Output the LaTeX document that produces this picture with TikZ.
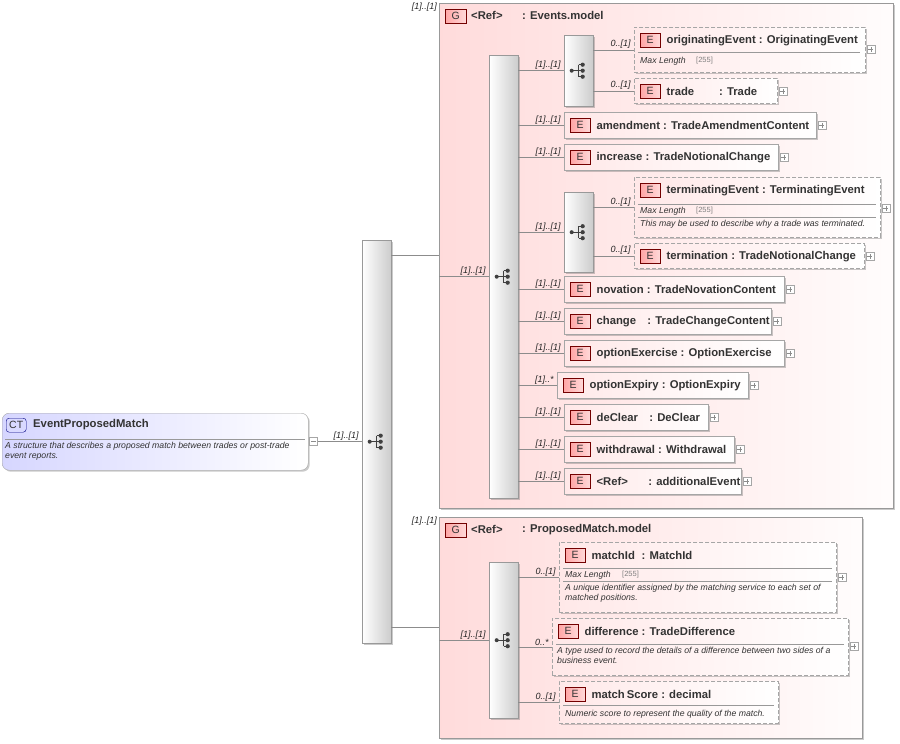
\documentclass[tikz,border=0pt]{standalone}
\usepackage{fontspec}
\setmainfont{Liberation Sans}
\usetikzlibrary{shadows}
\begin{document}
\begin{tikzpicture}[x=1pt,y=-1pt,
  shadowed/.style={drop shadow={shadow xshift=1.5pt,shadow yshift=-1.5pt,opacity=.35,fill=black!60}},
  elbox/.style={draw=black!35,line width=.8pt,left color=red!9,right color=white,anchor=north west,inner sep=0,shadowed},
  dsh/.style={dashed,dash pattern=on 4pt off 2pt},
  badge/.style={draw=red!45!black,left color=red!35,right color=red!15,anchor=north west,minimum width=20,minimum height=14,inner sep=0,font=\fontsize{10.5}{10}\selectfont,text=black!80},
  title/.style={anchor=west,font=\bfseries\fontsize{11.3}{12}\selectfont,text=black!80,inner sep=0},
  plusbox/.style={draw=black!35,fill=white,minimum size=8,inner sep=0,path picture={\draw[black!45] ([xshift=1.5pt]path picture bounding box.west)--([xshift=-1.5pt]path picture bounding box.east);\draw[black!45] ([yshift=1.5pt]path picture bounding box.south)--([yshift=-1.5pt]path picture bounding box.north);}},
  card/.style={font=\itshape\fontsize{9}{9}\selectfont,inner sep=1pt,text=black!85},
  desc/.style={font=\itshape\fontsize{8.7}{10}\selectfont,anchor=north west,inner sep=0,align=left,text=black!80},
  ml/.style={font=\itshape\fontsize{8.7}{9}\selectfont,anchor=west,inner sep=0,text=black!80},
  mlv/.style={font=\fontsize{7.5}{8}\selectfont,anchor=west,inner sep=0,text=black!50},
  sepl/.style={draw=black!40,line width=.6pt},
  seqbar/.style={draw=black!40,left color=white,right color=black!20,anchor=north west,inner sep=0,minimum width=29,shadowed},
  group/.style={draw=black!40,line width=.8pt,left color=red!14,right color=red!1,anchor=north west,inner sep=0,shadowed},
  conn/.style={draw=black!45,line width=.6pt},
  seqicon/.pic={\fill[black!75] (-7,0) circle (2);\draw[black!75,line width=.9pt] (-7,0)--(0,0) (0,-6)--(0,6) (0,-6)--(4,-6) (0,0)--(4,0) (0,6)--(4,6);
    \fill[black!75] (4,-6) circle (2.1) (4,0) circle (2.1) (4,6) circle (2.1);}
]
\useasboundingbox (0,0) rectangle (900,744);
\newcommand\El[7]{%
  \node[elbox,#6,minimum width=#4,minimum height=#5] (#1) at (#2,#3) {};
  \node[badge] (#1b) at ([xshift=6pt,yshift=-6pt]#1.north west) {E};
  \node[title] at ([xshift=6pt]#1b.east) {#7};}
\newcommand\Pl[2]{\node[plusbox] at ([xshift=5pt,yshift=-#2pt]#1.north east) {};}

% groups
\node[group,minimum width=454,minimum height=505] (g1) at (439,3) {};
\node[badge,minimum width=21] (g1b) at (445,9) {G};
\node[title] at (471,15.5) {\textless Ref\textgreater};
\node[title] at (522,15.5) {: Events.model};
\node[card,anchor=north east] at ([xshift=-1pt,yshift=1pt]g1.north west) {[1]..[1]};

\node[group,minimum width=423,minimum height=221] (g2) at (439,517) {};
\node[badge,minimum width=21] (g2b) at (445,523) {G};
\node[title] at (471,529.5) {\textless Ref\textgreater};
\node[title] at (522,529.5) {: ProposedMatch.model};
\node[card,anchor=north east] at ([xshift=-1pt,yshift=1pt]g2.north west) {[1]..[1]};

% CT
\node[draw=black!35,rounded corners=7pt,left color=blue!16,right color=white,minimum width=306,minimum height=57,anchor=north west,inner sep=0,shadowed] (ct) at (2,413) {};
\node[draw=blue!50!black,rounded corners=3pt,fill=blue!15,minimum width=20,minimum height=14,inner sep=0,anchor=north west,font=\fontsize{10.5}{10}\selectfont,text=black!80] (ctb) at (6,418) {CT};
\node[title] at (33,425) {EventProposedMatch};
\draw[sepl] (5,439)--(305,439);
\node[desc] at (5,442) {A structure that describes a proposed match between trades or post-trade\\event reports.};
\node[plusbox,path picture={\draw[black!45] ([xshift=1.5pt]path picture bounding box.west)--([xshift=-1.5pt]path picture bounding box.east);}] (ctm) at (313.5,441.5) {};

% sequence bars
\node[seqbar,minimum height=403] (s0) at (362,240) {};
\pic at (s0.center) {seqicon};
\node[seqbar,minimum height=443] (s1) at (489,55) {};
\pic at (s1.center) {seqicon};
\node[seqbar,minimum height=156] (s2) at (489,562) {};
\pic at (s2.center) {seqicon};
\node[seqbar,minimum height=71] (c1) at (564,35) {};
\pic at (c1.center) {seqicon};
\node[seqbar,minimum height=80] (c2) at (564,192) {};
\pic at (c2.center) {seqicon};

% elements
\El{orig}{634}{27}{231}{45}{dsh}{originatingEvent : OriginatingEvent}\Pl{orig}{22}
\draw[sepl] (638,52)--(860,52);
\node[ml] at (640,61) {Max Length}; \node[mlv] at (696,61) {[255]};
\El{trade}{634}{78}{143}{25}{dsh}{trade\hspace{2.2em}: Trade}\Pl{trade}{13}
\El{amend}{564}{112}{252}{26}{}{amendment : TradeAmendmentContent}\Pl{amend}{13}
\El{incr}{564}{144}{214}{26}{}{increase : TradeNotionalChange}\Pl{incr}{13}
\El{term}{634}{177}{246}{60}{dsh}{terminatingEvent : TerminatingEvent}\Pl{term}{31}
\draw[sepl] (638,204)--(876,204);
\node[ml] at (640,211) {Max Length}; \node[mlv] at (696,211) {[255]};
\draw[sepl] (638,217)--(876,217);
\node[desc] at (640,220) {This may be used to describe why a trade was terminated.};
\El{termn}{634}{243}{230}{25}{dsh}{termination : TradeNotionalChange}\Pl{termn}{13}
\El{nov}{564}{276}{220}{26}{}{novation : TradeNovationContent}\Pl{nov}{13}
\El{chg}{564}{308}{207}{26}{}{change\hspace{1em}: TradeChangeContent}\Pl{chg}{13}
\El{optx}{564}{340}{220}{26}{}{optionExercise : OptionExercise}\Pl{optx}{13}
\El{optp}{557}{372}{191}{26}{}{optionExpiry : OptionExpiry}\Pl{optp}{13}
\El{dec}{564}{404}{144}{26}{}{deClear\hspace{1em}: DeClear}\Pl{dec}{13}
\El{wd}{564}{436}{170}{26}{}{withdrawal : Withdrawal}\Pl{wd}{13}
\El{addl}{564}{468}{177}{26}{}{\textless Ref\textgreater\hspace{1.8em}: additionalEvent}\Pl{addl}{13}

\El{mid}{559}{542}{277}{70}{dsh}{matchId\hspace{0.6em}: MatchId}\Pl{mid}{35}
\draw[sepl] (563,568)--(832,568);
\node[ml] at (565,575) {Max Length}; \node[mlv] at (622,575) {[255]};
\draw[sepl] (563,581)--(832,581);
\node[desc] at (565,584) {A unique identifier assigned by the matching service to each set of\\matched positions.};
\El{diff}{552}{618}{296}{57}{dsh}{difference : TradeDifference}\Pl{diff}{28}
\draw[sepl] (556,644)--(844,644);
\node[desc] at (557,647) {A type used to record the details of a difference between two sides of a\\business event.};
\El{ms}{559}{681}{219}{42}{dsh}{match\,Score : decimal}
\draw[sepl] (563,705)--(774,705);
\node[desc] at (565,710) {Numeric score to represent the quality of the match.};

% connectors
\draw[conn] (ctm.east) -- node[card,pos=1,anchor=south east,xshift=-2pt]{[1]..[1]} (s0.west |- ctm.east);
\draw[conn] (s0.east |- 0,255) -- (g1.west |- 0,255);
\draw[conn] (s0.east |- 0,627) -- (g2.west |- 0,627);
\draw[conn] (g1.west |- s1.west) -- node[card,pos=1,anchor=south east,xshift=-2pt]{[1]..[1]} (s1.west);
\draw[conn] (g2.west |- s2.west) -- node[card,pos=1,anchor=south east,xshift=-2pt]{[1]..[1]} (s2.west);
\foreach \t/\c in {c1/{[1]..[1]},amend/{[1]..[1]},incr/{[1]..[1]},c2/{[1]..[1]},nov/{[1]..[1]},chg/{[1]..[1]},optx/{[1]..[1]},optp/{[1]..*},dec/{[1]..[1]},wd/{[1]..[1]},addl/{[1]..[1]}}
  \draw[conn] (s1.east |- \t.west) -- node[card,pos=1,anchor=south east,xshift=-2pt]{\c} (\t.west);
\foreach \t/\c in {mid/{0..[1]},diff/{0..*},ms/{0..[1]}}
  \draw[conn] (s2.east |- \t.west) -- node[card,pos=1,anchor=south east,xshift=-2pt]{\c} (\t.west);
\draw[conn] (c1.east |- orig.west) -- node[card,pos=1,anchor=south east,xshift=-2pt]{0..[1]} (orig.west);
\draw[conn] (c1.east |- trade.west) -- node[card,pos=1,anchor=south east,xshift=-2pt]{0..[1]} (trade.west);
\draw[conn] (c2.east |- term.west) -- node[card,pos=1,anchor=south east,xshift=-2pt]{0..[1]} (term.west);
\draw[conn] (c2.east |- termn.west) -- node[card,pos=1,anchor=south east,xshift=-2pt]{0..[1]} (termn.west);
\end{tikzpicture}
\end{document}
